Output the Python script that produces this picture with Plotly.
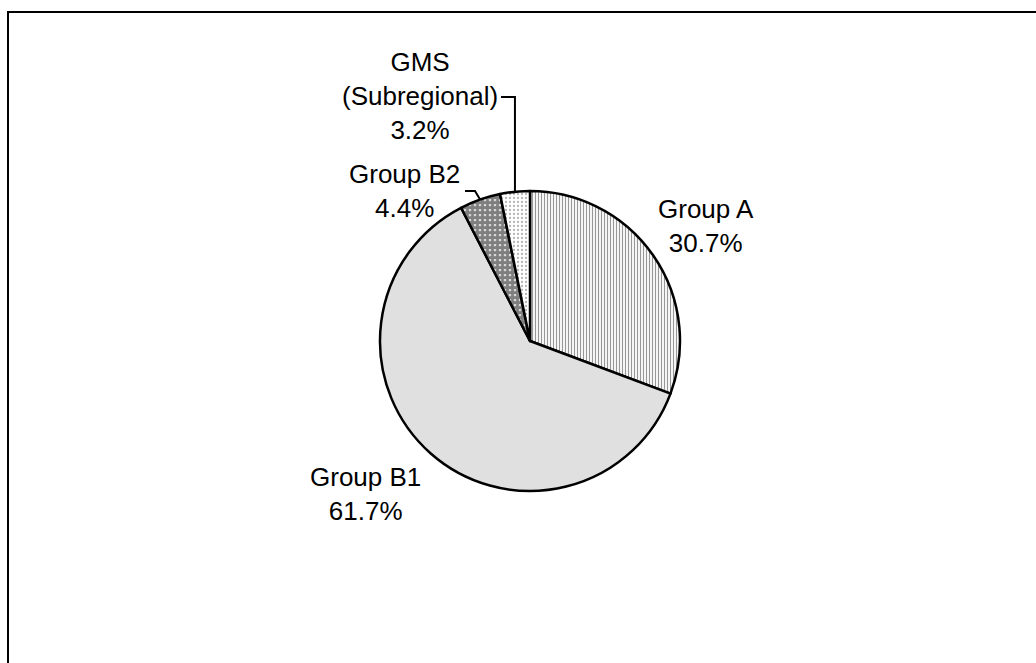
import math
import plotly.graph_objects as go

# Share of allocations by group (%)
labels = ["Group A", "Group B1", "Group B2", "GMS<br>(Subregional)"]
values = [30.7, 61.7, 4.4, 3.2]

# Slice fill patterns
pattern_shapes = ["|", ".", ".", "."]
pattern_fg = ["#303030", "#6e6e6e", "#000000", "#6a6a6a"]
pattern_size = [3, 2, 5, 4]
pattern_solidity = [0.4, 0.5, 0.8, 0.25]

W, H = 1036, 663
CX, CY, R = 530, 341, 150  # pie centre and radius in pixels


def px(x):
    return x / W


def py(y):
    return 1 - y / H


fig = go.Figure(
    go.Pie(
        labels=labels,
        values=values,
        sort=False,
        direction="clockwise",
        rotation=0,
        textinfo="none",
        hoverinfo="label+percent",
        showlegend=False,
        domain=dict(x=[px(CX - R), px(CX + R)], y=[py(CY + R), py(CY - R)]),
        marker=dict(
            colors=["white"] * len(values),
            line=dict(color="black", width=2.5),
            pattern=dict(
                shape=pattern_shapes,
                fgcolor=pattern_fg,
                bgcolor=["white"] * len(values),
                size=pattern_size,
                solidity=pattern_solidity,
                fillmode="overlay",
            ),
        ),
    )
)

# Label text placement (pixel centres)
label_pos = [(706, 226), (365, 494), (404, 191), (420, 96)]
font = dict(family="Liberation Sans, Arial, sans-serif", size=26, color="black")
total = sum(values)
for lab, val, (x, y) in zip(labels, values, label_pos):
    fig.add_annotation(
        x=px(x), y=py(y), xref="paper", yref="paper",
        text=f"{lab}<br>{val:.1f}%", showarrow=False,
        xanchor="center", yanchor="middle", align="center", font=font,
    )


def edge_point(idx):
    """Point on the rim at the middle of slice idx (clockwise from 12 o'clock)."""
    start = sum(values[:idx]) / total * 360
    mid = math.radians(start + values[idx] / total * 360 / 2)
    return CX + R * math.sin(mid), CY - R * math.cos(mid)


# Leader lines for the two small slices
ex, ey = edge_point(3)
fig.add_shape(
    type="path", xref="paper", yref="paper",
    path=f"M {px(501)} {py(97)} L {px(ex)} {py(97)} L {px(ex)} {py(ey)}",
    line=dict(color="black", width=2),
)
ex, ey = edge_point(2)
fig.add_shape(
    type="path", xref="paper", yref="paper",
    path=f"M {px(465)} {py(191)} L {px(475)} {py(191)} L {px(ex)} {py(ey)}",
    line=dict(color="black", width=2),
)

# Outer frame (runs off the right and bottom edges)
fig.add_shape(
    type="rect", xref="paper", yref="paper",
    x0=px(8), y0=-0.05, x1=1.05, y1=py(12),
    line=dict(color="black", width=2), fillcolor="rgba(0,0,0,0)",
)

fig.update_layout(
    width=W, height=H,
    margin=dict(l=0, r=0, t=0, b=0),
    paper_bgcolor="white", plot_bgcolor="white",
)

fig.write_html("out.html")
